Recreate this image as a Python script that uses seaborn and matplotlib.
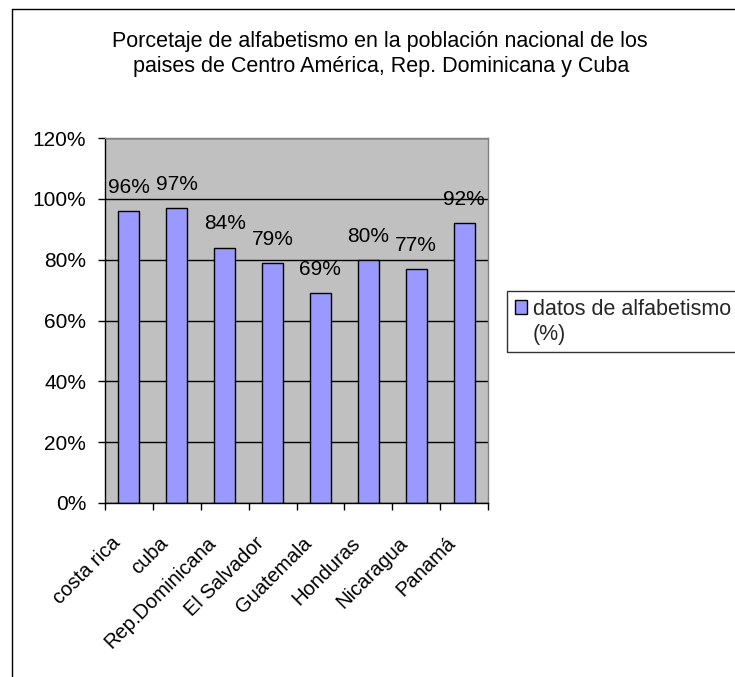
import matplotlib
matplotlib.use("Agg")
import matplotlib.pyplot as plt
import matplotlib.transforms as mtransforms
import seaborn as sns
import pandas as pd
import numpy as np
from matplotlib.lines import Line2D
from matplotlib.ticker import FixedLocator, PercentFormatter

categories = ["costa rica", "cuba", "Rep.Dominicana", "El Salvador", "Guatemala",
              "Honduras", "Nicaragua", "Panamá"]
values = [0.96, 0.97, 0.84, 0.79, 0.69, 0.80, 0.77, 0.92]
labels = ["96%", "97%", "84%", "79%", "69%", "80%", "77%", "92%"]
series_lines = ["datos de alfabetismo", "(%)"]
title_lines = ["Porcetaje de alfabetismo en la población nacional de los",
               "paises de Centro América, Rep. Dominicana y Cuba"]
yticks = [0, 0.2, 0.4, 0.6, 0.8, 1.0, 1.2]

sns.set_theme(style="white")
plt.rcParams["font.family"] = ["Liberation Sans", "DejaVu Sans"]
FS = 15

W, H = 735, 677
fig = plt.figure(figsize=(W / 100, H / 100), dpi=100)
fig.patch.set_facecolor("white")

L, R, T, B = 105, 488, 138, 503
ax = fig.add_axes([L / W, 1 - B / H, (R - L) / W, (B - T) / H])
ax.set_facecolor("#C0C0C0")

df = pd.DataFrame({"pais": categories, "valor": values})
sns.barplot(data=df, x="pais", y="valor", color="#9999FF", edgecolor="black",
            linewidth=1.0, width=0.44, saturation=1, ax=ax, legend=False)

ax.set_xlim(-0.5, len(categories) - 0.5)
ax.set_ylim(0, 1.2)
ax.set_yticks(yticks)
ax.yaxis.set_major_formatter(PercentFormatter(1.0, decimals=0))
ax.yaxis.grid(True, color="black", linewidth=1.0)
ax.set_axisbelow(True)
ax.set_xlabel("")
ax.set_ylabel("")

for s in ["top", "right"]:
    ax.spines[s].set_color("#808080")
    ax.spines[s].set_linewidth(1.0)
for s in ["left", "bottom"]:
    ax.spines[s].set_color("black")
    ax.spines[s].set_linewidth(1.0)

ax.tick_params(axis="y", which="major", left=True, length=5, width=1, color="black",
               labelsize=FS, pad=8.5, labelcolor="black")
ax.set_xticks(range(len(categories)))
ax.set_xticklabels(categories, rotation=45, ha="right", rotation_mode="anchor",
                   fontsize=14.5, color="black")
ax.tick_params(axis="x", which="major", bottom=False, length=0, pad=22)
ax.xaxis.set_minor_locator(FixedLocator(np.arange(-0.5, len(categories), 1.0)))
ax.tick_params(axis="x", which="minor", bottom=True, length=5, width=1, color="black")
shift = mtransforms.ScaledTranslation(-18 / 100, 0, fig.dpi_scale_trans)
for lab in ax.get_xticklabels():
    lab.set_transform(lab.get_transform() + shift)

for i, (v, lab) in enumerate(zip(values, labels)):
    ax.annotate(lab, (i, v), xytext=(0, 13), textcoords="offset points",
                ha="center", va="baseline", fontsize=FS, color="black")

fig.text(380 / W, 1 - 47 / H, title_lines[0], ha="center", va="baseline",
         fontsize=15.5, color="black")
fig.text(381 / W, 1 - 72 / H, title_lines[1], ha="center", va="baseline",
         fontsize=15.5, color="black")

handles = [plt.Rectangle((0, 0), 1, 1, facecolor="#9999FF", edgecolor="black",
                         linewidth=1.0),
           plt.Rectangle((0, 0), 1, 1, facecolor="none", edgecolor="none")]
leg = fig.legend(handles, series_lines, loc="upper left",
                 bbox_to_anchor=(507 / W, 1 - 291 / H), frameon=True,
                 fancybox=False, fontsize=15.5, handlelength=0.6, handleheight=0.6,
                 handletextpad=0.25, borderpad=0.35, borderaxespad=0,
                 labelspacing=0.2)
leg.get_frame().set_edgecolor("black")
leg.get_frame().set_linewidth(1.0)

fig.add_artist(Line2D([12 / W, 12 / W], [0, 1 - 9 / H], transform=fig.transFigure,
                      color="black", linewidth=1.0))
fig.add_artist(Line2D([12 / W, 1], [1 - 9 / H, 1 - 9 / H], transform=fig.transFigure,
                      color="black", linewidth=1.0))

fig.savefig("out.png", dpi=100)
